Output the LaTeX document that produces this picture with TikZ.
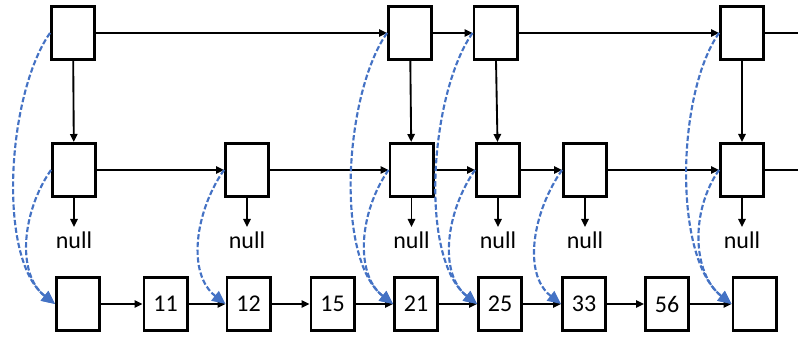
\documentclass[tikz,border=0pt]{standalone}
\usepackage{fontspec}
\setmainfont{Carlito}
\usetikzlibrary{arrows.meta}
\definecolor{zblue}{RGB}{68,114,196}

\begin{document}
\begin{tikzpicture}[x=.75pt, y=.75pt, font=\fontsize{18}{20}\selectfont,
  zbox/.style={draw, line width=2pt, minimum width=32.5pt, minimum height=40pt, inner sep=0},
  zline/.style={line width=1.4pt},
  znext/.style={zline, -{Triangle[length=6pt, width=5.5pt]}},
  znull/.style={anchor=north, inner sep=3.5pt},
  zjump/.style={zblue, line width=1.6pt, dash pattern=on 4pt off 1.8pt, -{Triangle[length=10pt, width=9pt]}, out=235, in=142},
  zjumpl/.style={zjump, looseness=.7}, zjumps/.style={zjump, looseness=.95}]
\useasboundingbox (0,0) rectangle (798,341);
% three levels
\foreach \n/\x in {1/73,2/410,3/495.5,4/742}{\node[zbox] (t\n) at (\x,308) {};}
\foreach \n/\x in {1/74,2/247,3/411.5,4/498,5/585,6/742}{\node[zbox] (m\n) at (\x,171) {};}
\foreach \n/\x/\v in {1/78/{},2/165.5/11,3/248.5/12,4/332.5/15,5/416/21,6/500/25,7/584/33,8/667/56,9/754.5/{}}{\node[zbox] (b\n) at (\x,37) {\v};}
\coordinate (tend) at (798,308);
\coordinate (mend) at (798,171);
% links
\foreach \a/\b in {t1/t2,t2/t3,t3/t4,m1/m2,m2/m3,m3/m4,m4/m5,m5/m6,b1/b2,b2/b3,b3/b4,b4/b5,b5/b6,b6/b7,b7/b8,b8/b9,t1/m1,t2/m3,t3/m4,t4/m6}{\draw[znext] (\a) -- (\b);}
\draw[zline] (t4) -- (tend);
\draw[zline] (m6) -- (mend);
\foreach \n in {1,...,6}{\node[znull] (n\n) at (m\n |- 0,114) {null}; \draw[znext] (m\n) -- (n\n);}
% jumps down
\foreach \a/\b in {t1/b1,t2/b5,t3/b6,t4/b9}{\draw[zjumpl] (\a.west) to (\b.west);}
\foreach \a/\b in {m1/b1,m2/b3,m3/b5,m4/b6,m5/b7,m6/b9}{\draw[zjumps] (\a.west) to (\b.west);}
\end{tikzpicture}
\end{document}
